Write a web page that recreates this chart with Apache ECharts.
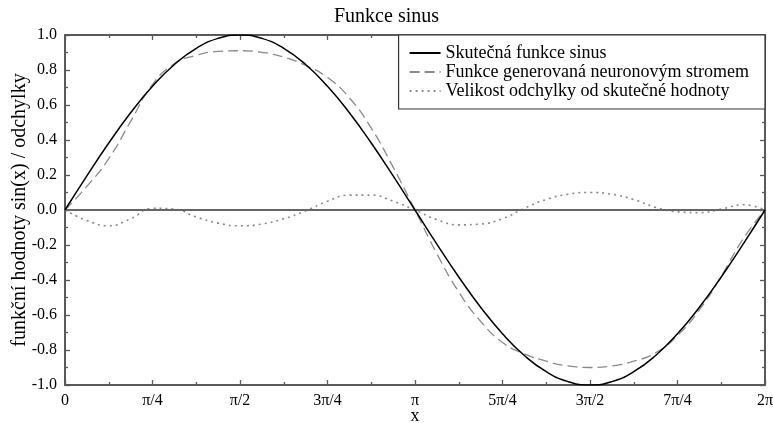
<!DOCTYPE html>
<html><head><meta charset="utf-8">
<script src="https://cdn.jsdelivr.net/npm/echarts@6/dist/echarts.min.js"></script>
<style>html,body{margin:0;padding:0;background:#fff}#c{width:773px;height:423px}</style>
</head><body><div id="c"></div>
<script>
// x sample points (radians, steps of pi/16)
const xValues = [0, 0.1963, 0.3927, 0.5890, 0.7854, 0.9817, 1.1781, 1.3744, 1.5708, 1.7671, 1.9635, 2.1598, 2.3562, 2.5525, 2.7489, 2.9452, 3.1416, 3.3379, 3.5343, 3.7306, 3.9270, 4.1233, 4.3197, 4.5160, 4.7124, 4.9087, 5.1051, 5.3014, 5.4978, 5.6941, 5.8905, 6.0868, 6.2832];
const sineValues = [0, 0.1951, 0.3827, 0.5556, 0.7071, 0.8315, 0.9239, 0.9808, 1, 0.9808, 0.9239, 0.8315, 0.7071, 0.5556, 0.3827, 0.1951, 0, -0.1951, -0.3827, -0.5556, -0.7071, -0.8315, -0.9239, -0.9808, -1, -0.9808, -0.9239, -0.8315, -0.7071, -0.5556, -0.3827, -0.1951, 0];
const treeValues = [0, 0.135, 0.293, 0.506, 0.717, 0.836, 0.884, 0.906, 0.910, 0.901, 0.874, 0.826, 0.757, 0.641, 0.468, 0.245, 0, -0.250, -0.468, -0.636, -0.757, -0.822, -0.864, -0.891, -0.900, -0.891, -0.864, -0.816, -0.717, -0.571, -0.378, -0.165, 0];
const errorValues = [0, -0.06, -0.09, -0.05, 0.01, 0.005, -0.04, -0.075, -0.09, -0.08, -0.05, -0.005, 0.05, 0.085, 0.085, 0.05, 0, -0.055, -0.085, -0.08, -0.05, 0.01, 0.06, 0.09, 0.10, 0.09, 0.06, 0.015, -0.01, -0.015, 0.005, 0.03, 0];
const xTickLabels = ['0', 'π/4', 'π/2', '3π/4', 'π', '5π/4', '3π/2', '7π/4', '2π'];
const seriesNames = ['Skutečná funkce sinus', 'Funkce generovaná neuronovým stromem', 'Velikost odchylky od skutečné hodnoty'];

const F = 'Liberation Serif, Times New Roman, serif';
const axisCol = '#5a5a5a';
const pair = (ys) => xValues.map((x, i) => [x, ys[i]]);
const step = Math.PI / 4;

const baseX = {
  type: 'value', min: 0, max: 2 * Math.PI, interval: step,
  axisLine: { show: true, onZero: false, lineStyle: { color: axisCol, width: 2 } },
  axisTick: { show: true, inside: true, length: 5, lineStyle: { color: axisCol, width: 1.3 } },
  minorTick: { show: true, splitNumber: 2, length: 3, lineStyle: { color: axisCol, width: 1.3 } },
  splitLine: { show: false }
};
const baseY = {
  type: 'value', min: -1, max: 1, interval: 0.2,
  axisLine: { show: true, onZero: false, lineStyle: { color: axisCol, width: 2 } },
  axisTick: { show: true, inside: true, length: 5, lineStyle: { color: axisCol, width: 1.3 } },
  minorTick: { show: true, splitNumber: 2, length: 3, lineStyle: { color: axisCol, width: 1.3 } },
  splitLine: { show: false }
};

const chart = echarts.init(document.getElementById('c'));
chart.setOption({
  animation: false,
  backgroundColor: '#fff',
  title: { text: 'Funkce sinus', left: 'center', top: 2, textStyle: { fontFamily: F, fontSize: 20, fontWeight: 'normal', color: '#000' } },
  grid: { left: 65, right: 8, top: 35, bottom: 38, outerBoundsMode: 'none', containLabel: false },
  legend: {
    orient: 'vertical', right: 8, top: 35,
    data: seriesNames,
    backgroundColor: '#fff', borderColor: '#333', borderWidth: 1.2, borderRadius: 0,
    padding: [9, 16, 9, 10], itemGap: 1, itemWidth: 31, itemHeight: 14,
    itemStyle: { opacity: 0 },
    textStyle: { fontFamily: F, fontSize: 18, color: '#000', lineHeight: 18 }
  },
  xAxis: [
    Object.assign({}, baseX, {
      position: 'bottom',
      name: 'x', nameLocation: 'middle', nameGap: 22, nameMoveOverlap: false,
      nameTextStyle: { fontFamily: F, fontSize: 18, color: '#000' },
      axisLabel: { show: true, margin: 8, fontFamily: F, fontSize: 16, color: '#000',
        formatter: (v) => xTickLabels[Math.round(v / step)] }
    }),
    Object.assign({}, baseX, { position: 'top', axisLabel: { show: false } })
  ],
  yAxis: [
    Object.assign({}, baseY, {
      position: 'left',
      name: 'funkční hodnoty sin(x) / odchylky', nameLocation: 'middle', nameGap: 35, nameMoveOverlap: false,
      nameTextStyle: { fontFamily: F, fontSize: 20, color: '#000' },
      axisLabel: { show: true, margin: 8, fontFamily: F, fontSize: 16, color: '#000',
        formatter: (v) => v.toFixed(1) }
    }),
    Object.assign({}, baseY, { position: 'right', axisLabel: { show: false } })
  ],
  series: [
    {
      name: seriesNames[0], type: 'line', data: pair(sineValues), smooth: true, symbol: 'none',
      lineStyle: { color: '#000', width: 1.5 }, itemStyle: { color: '#000' }, z: 5,
      markLine: { silent: true, symbol: 'none', label: { show: false },
        lineStyle: { color: '#666', width: 2, type: 'solid' }, data: [{ yAxis: 0 }] }
    },
    {
      name: seriesNames[1], type: 'line', data: pair(treeValues), smooth: true, symbol: 'none',
      lineStyle: { color: '#8a8a8a', width: 1.3, type: [10, 5] }, itemStyle: { color: '#8a8a8a' }, z: 4
    },
    {
      name: seriesNames[2], type: 'line', data: pair(errorValues), smooth: true, symbol: 'none',
      lineStyle: { color: '#8a8a8a', width: 1.6, type: [2, 4] }, itemStyle: { color: '#8a8a8a' }, z: 3
    }
  ]
});
</script></body></html>
